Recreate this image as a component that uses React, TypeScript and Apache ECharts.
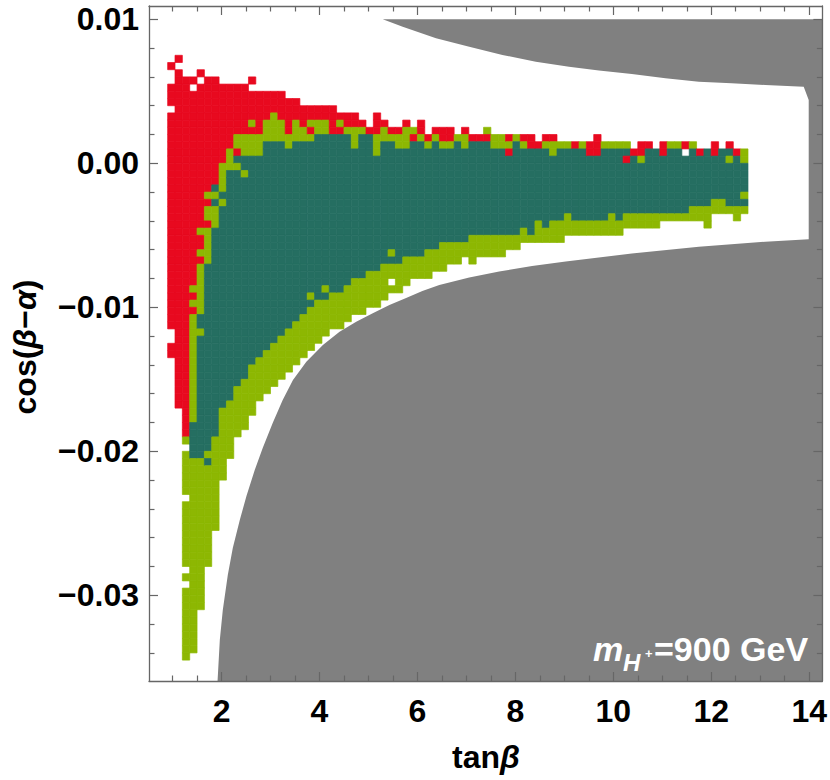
import React, { useEffect, useRef } from "react";
import * as echarts from "echarts";

// ---- axis ranges / ticks ----
const X_MIN = 0.519;
const X_MAX = 14.269;
const Y_MIN = -0.035951;
const Y_MAX = 0.010924;
const xMajor = [2, 4, 6, 8, 10, 12, 14];
const xMinor = [1, 1.5, 2.5, 3, 3.5, 4.5, 5, 5.5, 6.5, 7, 7.5, 8.5, 9, 9.5, 10.5, 11, 11.5, 12.5, 13, 13.5];
const yMajor = [-0.03, -0.02, -0.01, 0, 0.01];
const yMinor = [-0.034, -0.032, -0.028, -0.026, -0.024, -0.022, -0.018, -0.016, -0.014, -0.012, -0.008, -0.006, -0.004, -0.002, 0.002, 0.004, 0.006, 0.008];

// ---- scan grid: columns start at tanB = 0.9, step 0.15; rows step 0.0005 (row k spans k*dy .. (k+1)*dy)
const GRID_X0 = 0.9;
const GRID_DX = 0.15;
const GRID_DY = 0.0005;

// per column (row indices): top row, lowest red row, teal top, teal bottom, lowest row
const colTop = [10, 12, 11, 11, 10, 11, 11, 10, 10, 10, 10, 9, 9, 9, 9, 9, 8, 8, 7, 7, 7, 7, 7, 6, 6, 6, 5, 4, 6, 5, 4, 4, 5, 4, 5, 3, 4, 4, 4, 3, 4, 3, 3, 4, 3, 3, 3, 3, 3, 3, 2, 3, 3, 2, 2, 2, 2, 2, 3, 2, 2, 2, 2, 1, 2, 2, 1, 2, 2, 2, 2, 2, 1, 1, 2, 1, 2, 1, 1];
const colRedBot = [-23, -34, -38, -21, -9, -4, -3, 0, 2, 4, 4, 4, 4, 6, 7, 6, 4, 6, 5, 6, 6, 6, 4, 6, 5, 5, 5, 4, 4, 5, 4, 4, 5, 3, 4, 3, 4, 3, 3, null, 4, 3, 3, 3, null, null, 3, null, 3, 2, 2, 3, 3, null, null, 2, null, 1, 1, null, null, null, null, 1, 1, 2, null, 1, null, null, 2, null, 1, null, 1, null, 2, 1, null];
const colTealTop = [null, null, null, -37, -22, -15, -10, -5, -2, 0, 0, 0, 0, 2, 2, 2, 1, 2, 2, 2, 3, 3, 3, 3, 3, 1, 3, 3, 0, 2, 2, 1, 1, 2, 2, 1, 2, 1, 1, 2, 1, 2, 2, 2, 1, 1, 1, 2, 1, 1, 1, 1, 0, 1, 1, 1, 1, 0, 0, 1, 1, 1, 1, 0, 0, 1, 1, 0, 1, 1, 0, 1, 0, 1, 0, 1, 1, 0, -1];
const colTealBot = [null, null, null, -41, -41, -40, -38, -34, -33, -31, -30, -28, -27, -26, -25, -24, -23, -22, -21, -20, -19, -19, -18, -18, -17, -16, -16, -15, -15, -14, -14, -14, -13, -13, -13, -12, -12, -11, -11, -11, -11, -10, -10, -10, -10, -10, -10, -10, -9, -9, -8, -9, -8, -8, -7, -8, -8, -8, -8, -8, -7, -8, -7, -7, -7, -7, -7, -7, -7, -7, -7, -6, -6, -6, -5, -5, -6, -6, -6];
const colBot = [-23, -34, -69, -68, -62, -56, -51, -44, -41, -38, -37, -35, -33, -32, -31, -30, -29, -28, -27, -26, -25, -24, -23, -23, -22, -21, -21, -20, -20, -19, -18, -18, -17, -16, -16, -16, -15, -15, -14, -14, -13, -14, -13, -13, -13, -13, -12, -12, -11, -11, -11, -11, -11, -11, -10, -10, -10, -10, -10, -10, -10, -10, -9, -9, -9, -9, -9, -8, -8, -8, -8, -8, -8, -9, -7, -7, -7, -8, -7];
// isolated cells: [column, row, code] code 0 = empty, 1 = red, 2 = green, 3 = teal
const extraCells = [
  [0, 13, 1], [0, 7, 0], [0, -26, 1], [0, -27, 1], [1, 14, 1],
  [2, -40, 0], [2, -47, 0], [2, -57, 0], [2, -59, 0],
  [3, 10, 0], [3, -18, 2], [3, -20, 2],
  [4, 12, 1], [4, 11, 0], [4, -11, 1], [4, -12, 1], [4, -14, 1], [4, -24, 2],
  [5, -6, 1], [5, -9, 1], [5, -42, 3], [6, -4, 3], [6, -6, 3], [7, -6, 2],
  [9, 1, 1], [9, -1, 2], [10, -2, 2], [11, 11, 1], [11, 5, 2],
  [19, 4, 1], [19, -19, 2], [21, -18, 2], [23, 4, 1], [30, -13, 2], [30, -17, 0],
  [33, 4, 2], [43, 4, 2], [46, 1, 1], [49, -10, 3], [62, 0, 1], [64, 0, 2],
  [70, 1, 0], [76, 0, 2], [78, -5, 2],
];

// ---- excluded (gray) region boundary ----
const grayUpperX = [5.292, 5.699, 6.38, 7.058, 7.736, 8.417, 9.095, 9.706, 10.378, 11.065, 11.746, 12.416, 13.102, 13.888, 13.99];
const grayUpperY = [0.01, 0.009486, 0.008681, 0.008097, 0.007521, 0.007056, 0.006708, 0.006444, 0.006201, 0.005903, 0.005667, 0.005556, 0.005438, 0.005319, 0.004396];
const grayLowerX = [13.99, 13.102, 11.746, 10.378, 9.028, 8.341, 7.669, 7.058, 6.447, 6.101, 5.769, 5.428, 5.088, 4.75, 4.41, 4.07, 3.732, 3.459, 3.249, 3.045, 2.841, 2.678, 2.509, 2.373, 2.23, 2.128, 2.026, 1.965, 1.919];
const grayLowerY = [-0.005278, -0.005444, -0.005792, -0.006264, -0.006819, -0.007132, -0.007514, -0.007931, -0.008451, -0.008868, -0.009354, -0.00984, -0.010417, -0.011, -0.011694, -0.012618, -0.013778, -0.015049, -0.016438, -0.018035, -0.019771, -0.021299, -0.023104, -0.024771, -0.026715, -0.02859, -0.031021, -0.033104, -0.035951];

const COLORS = ["none", "#E8091F", "#8DB702", "#256E61"];
const FONT = "Liberation Sans";

function buildCells() {
  const m = new Map<string, number>();
  for (let c = 0; c < colTop.length; c++) {
    for (let k = colTop[c]; k >= colBot[c]; k--) {
      let code = 2;
      const rb = colRedBot[c];
      const tt = colTealTop[c];
      const tb = colTealBot[c];
      if (rb !== null && k >= rb) code = 1;
      else if (tt !== null && tb !== null && k <= tt && k >= tb) code = 3;
      m.set(c + "," + k, code);
    }
  }
  extraCells.forEach(([c, k, code]) => m.set(c + "," + k, code));
  const out: number[][] = [];
  m.forEach((code, key) => {
    if (!code) return;
    const [c, k] = key.split(",").map(Number);
    out.push([GRID_X0 + c * GRID_DX, k * GRID_DY, code]);
  });
  return out;
}

function grayPolygon() {
  const pts: number[][] = [];
  grayUpperX.forEach((x, i) => pts.push([x, grayUpperY[i]]));
  grayLowerX.forEach((x, i) => pts.push([x, grayLowerY[i]]));
  pts.push([X_MAX, Y_MIN]);
  pts.push([X_MAX, 0.01]);
  return pts;
}

const AX = "#666";
const labelStyle = { fontFamily: FONT, fontWeight: "bold" as const, fontSize: 32, color: "#000" };

function xAx(position: string, values: number[], len: number, labels: boolean, line: boolean) {
  return {
    type: "value", position, min: X_MIN, max: X_MAX, z: 10,
    axisLine: { show: line, onZero: false, lineStyle: { color: AX, width: 1.3 } },
    axisTick: { show: true, inside: true, length: len, customValues: values, lineStyle: { color: AX, width: 1.2 } },
    axisLabel: labels
      ? { show: true, customValues: values, margin: 14, ...labelStyle, formatter: (v: number) => String(Math.round(v)) }
      : { show: false },
    splitLine: { show: false },
  };
}
function yAx(position: string, values: number[], len: number, labels: boolean, line: boolean) {
  return {
    type: "value", position, min: Y_MIN, max: Y_MAX, z: 10,
    axisLine: { show: line, onZero: false, lineStyle: { color: AX, width: 1.3 } },
    axisTick: { show: true, inside: true, length: len, customValues: values, lineStyle: { color: AX, width: 1.2 } },
    axisLabel: labels
      ? { show: true, customValues: values, margin: 10, ...labelStyle,
          formatter: (v: number) => (v < -1e-9 ? "\u2212" : "") + Math.abs(v).toFixed(2) }
      : { show: false },
    splitLine: { show: false },
  };
}

export default function App() {
  const ref = useRef<HTMLDivElement>(null);
  useEffect(() => {
    const chart = echarts.init(ref.current!, null, { renderer: "svg" });
    const cells = buildCells();
    const poly = grayPolygon();
    const option: any = {
      animation: false,
      backgroundColor: "#fff",
      grid: { left: 149, top: 6, width: 675, height: 675, containLabel: false },
      xAxis: [
        xAx("bottom", xMajor, 9, true, true),
        xAx("bottom", xMinor, 5.5, false, false),
        xAx("top", xMajor, 9, false, true),
        xAx("top", xMinor, 5.5, false, false),
      ],
      yAxis: [
        yAx("left", yMajor, 9, true, true),
        yAx("left", yMinor, 5.5, false, false),
        yAx("right", yMajor, 9, false, true),
        yAx("right", yMinor, 5.5, false, false),
      ],
      series: [
        {
          type: "custom", xAxisIndex: 0, yAxisIndex: 0, z: 1, clip: true, silent: true,
          data: [[X_MIN, Y_MIN]],
          renderItem: (_p: any, api: any) => ({
            type: "polygon",
            shape: { points: poly.map((p) => api.coord(p)) },
            style: { fill: "#808080" },
          }),
        },
        {
          type: "custom", xAxisIndex: 0, yAxisIndex: 0, z: 2, clip: true, silent: true,
          data: cells,
          renderItem: (_p: any, api: any) => {
            const x0 = api.value(0), y0 = api.value(1), code = api.value(2);
            const a = api.coord([x0, y0 + GRID_DY]);
            const b = api.coord([x0 + GRID_DX, y0]);
            return {
              type: "rect",
              shape: { x: a[0], y: a[1], width: b[0] - a[0], height: b[1] - a[1] },
              style: { fill: COLORS[code], stroke: COLORS[code], lineWidth: 0.7 },
            };
          },
        },
      ],
      graphic: [
        {
          type: "text", x: 486, y: 757, z: 20,
          style: {
            text: "{a|tan}{b|\u03B2}", align: "center", verticalAlign: "middle",
            rich: {
              a: { fontFamily: FONT, fontWeight: "bold", fontSize: 32, fill: "#000" },
              b: { fontFamily: FONT, fontWeight: "bold", fontStyle: "italic", fontSize: 32, fill: "#000" },
            },
          },
        },
        {
          type: "text", x: 25, y: 347, rotation: Math.PI / 2, z: 20,
          style: {
            text: "{a|cos(}{b|\u03B2}{a|\u2212}{b|\u03B1}{a|)}", align: "center", verticalAlign: "middle",
            rich: {
              a: { fontFamily: FONT, fontWeight: "bold", fontSize: 32, fill: "#000" },
              b: { fontFamily: FONT, fontWeight: "bold", fontStyle: "italic", fontSize: 32, fill: "#000" },
            },
          },
        },
        {
          type: "text", x: 593, y: 649, z: 20,
          style: { text: "m", fontFamily: FONT, fontWeight: "bold", fontStyle: "italic", fontSize: 34, fill: "#fff", align: "left", verticalAlign: "middle" },
        },
        {
          type: "text", x: 623, y: 662, z: 20,
          style: { text: "H", fontFamily: FONT, fontWeight: "bold", fontStyle: "italic", fontSize: 24, fill: "#fff", align: "left", verticalAlign: "middle" },
        },
        {
          type: "text", x: 645, y: 653, z: 20,
          style: { text: "+", fontFamily: FONT, fontWeight: "bold", fontSize: 13, fill: "#fff", align: "left", verticalAlign: "middle" },
        },
        {
          type: "text", x: 654, y: 649, z: 20,
          style: { text: "=900 GeV", fontFamily: FONT, fontWeight: "bold", fontSize: 34, fill: "#fff", align: "left", verticalAlign: "middle" },
        },
      ],
    };
    chart.setOption(option);
    return () => chart.dispose();
  }, []);
  return (
    <div
      ref={ref}
      style={{ position: "fixed", left: 0, top: 0, width: 830, height: 780, background: "#fff" }}
    />
  );
}
